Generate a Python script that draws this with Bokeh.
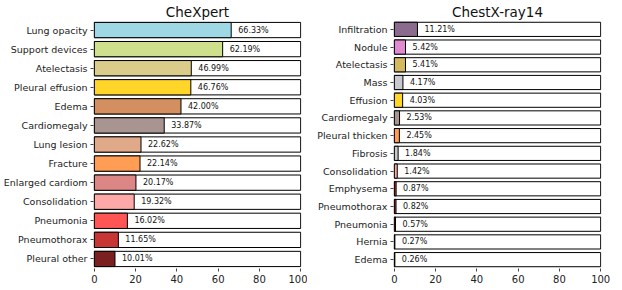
from bokeh.plotting import figure
from bokeh.layouts import row
from bokeh.models import ColumnDataSource, FactorRange, Range1d, FixedTicker
from bokeh.core.properties import value
from bokeh.embed import file_html
from bokeh.resources import INLINE

# ---- data ----
chex_labels = ["Lung opacity", "Support devices", "Atelectasis", "Pleural effusion", "Edema",
               "Cardiomegaly", "Lung lesion", "Fracture", "Enlarged cardiom", "Consolidation",
               "Pneumonia", "Pneumothorax", "Pleural other"]
chex_values = [66.33, 62.19, 46.99, 46.76, 42.00, 33.87, 22.62, 22.14, 20.17, 19.32, 16.02, 11.65, 10.01]
chex_colors = ["#9ed8e5", "#cfe08c", "#dccc8a", "#ffd52a", "#d48f60", "#a89592", "#dfa98a",
               "#ff9d55", "#dd8686", "#ffa8a8", "#ff5555", "#c83535", "#7a2020"]

cxr_labels = ["Infiltration", "Nodule", "Atelectasis", "Mass", "Effusion", "Cardiomegaly",
              "Pleural thicken", "Fibrosis", "Consolidation", "Emphysema", "Pneumothorax",
              "Pneumonia", "Hernia", "Edema"]
cxr_values = [11.21, 5.42, 5.41, 4.17, 4.03, 2.53, 2.45, 1.84, 1.42, 0.87, 0.82, 0.57, 0.27, 0.26]
cxr_colors = ["#8a6b8e", "#e08bd0", "#d4b95e", "#c8c8ce", "#ffd52a", "#a89592", "#ff9d55",
              "#c8c8c8", "#ffa8a8", "#c83535", "#c83535", "#ff5555", "#888888", "#d48f60"]

x_ticks = [0, 20, 40, 60, 80, 100]
FULL = 100


def panel(title, labels, values, colors, border_left, border_right):
    p = figure(title=title, y_range=FactorRange(factors=list(reversed(labels))),
               x_range=Range1d(-0.4, 100.4), frame_width=208, frame_height=248,
               min_border_left=border_left, min_border_right=border_right,
               min_border_top=0, min_border_bottom=0,
               output_backend="svg", toolbar_location=None)
    src = ColumnDataSource(dict(cat=labels, v=values, full=[FULL] * len(labels), col=colors,
                                lbl=["%.2f%%" % v for v in values]))
    p.hbar(y="cat", left=0, right="full", height=0.8, source=src,
           fill_color="white", line_color="black", line_width=1)
    p.hbar(y="cat", left=0, right="v", height=0.8, source=src,
           fill_color="col", line_color="black", line_width=1)
    p.text(x="v", y="cat", text="lbl", source=src, x_offset=7, text_baseline="middle",
           text_align="left", text_font_size="8px", text_color="#111",
           text_font=value("DejaVu Sans"))
    p.title.align = "center"
    p.title.text_font = "DejaVu Sans"
    p.title.text_font_size = "13.5px"
    p.title.text_font_style = "normal"
    p.title.text_color = "#111"
    p.title.standoff = 2
    p.xgrid.visible = False
    p.ygrid.visible = False
    p.outline_line_color = None
    p.xaxis.ticker = FixedTicker(ticks=x_ticks)
    for ax in (p.xaxis[0], p.yaxis[0]):
        ax.axis_line_color = None
        ax.major_tick_out = 3
        ax.major_tick_in = 0
        ax.minor_tick_out = 0
        ax.minor_tick_in = 0
        ax.major_label_standoff = 3
        ax.major_label_text_font = "DejaVu Sans"
        ax.major_label_text_color = "#222"
        ax.major_tick_line_color = "#444"
    p.yaxis.major_label_text_font_size = "9.5px"
    p.xaxis.major_label_text_font_size = "10px"
    return p


p1 = panel("CheXpert", chex_labels, chex_values, chex_colors, 86, 6)
p2 = panel("ChestX-ray14", cxr_labels, cxr_values, cxr_colors, 86, 12)
layout = row(p1, p2, spacing=0)

open("out.html", "w").write(file_html(layout, INLINE))
